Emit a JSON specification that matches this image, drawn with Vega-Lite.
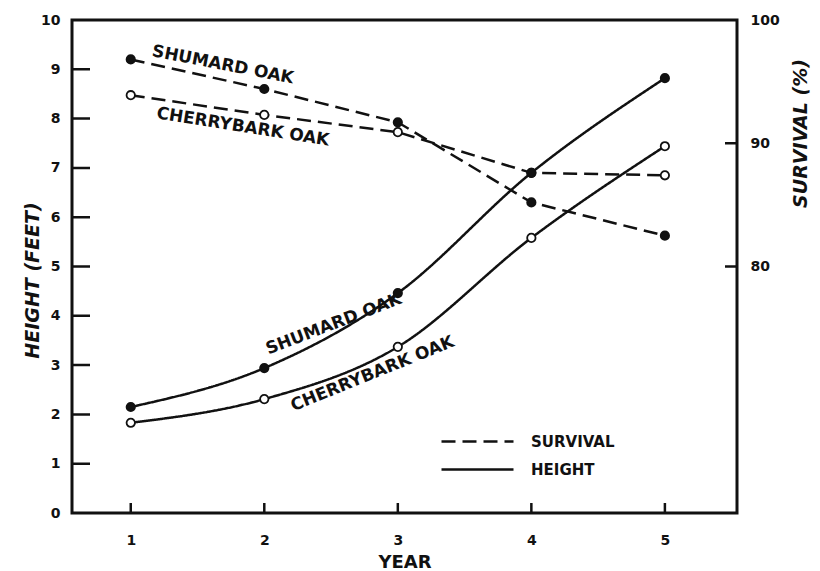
{
  "$schema": "https://vega.github.io/schema/vega-lite/v6.json",
  "width": 665,
  "height": 493,
  "autosize": {"type": "none"},
  "padding": {"left": 72, "top": 20, "right": 83, "bottom": 58},
  "background": "#ffffff",
  "config": {
    "view": {"stroke": "#111111", "strokeWidth": 3},
    "font": "DejaVu Sans",
    "axis": {
      "zindex": 1,
      "domain": false,
      "ticks": false,
      "tickSize": 0,
      "labelFont": "DejaVu Sans", "labelFontWeight": "bold", "labelFontSize": 14, "labelColor": "#111111",
      "titleFont": "DejaVu Sans", "titleFontWeight": "bold", "titleFontStyle": "italic", "titleFontSize": 19, "titleColor": "#111111",
      "grid": false
    }
  },
  "datasets": {
    "oaks": [
      {"species": "Shumard", "year": 1, "height": 2.15, "survival": 96.8},
      {"species": "Shumard", "year": 2, "height": 2.94, "survival": 94.4},
      {"species": "Shumard", "year": 3, "height": 4.46, "survival": 91.7},
      {"species": "Shumard", "year": 4, "height": 6.9, "survival": 85.2},
      {"species": "Shumard", "year": 5, "height": 8.82, "survival": 82.5},
      {"species": "Cherrybark", "year": 1, "height": 1.83, "survival": 93.9},
      {"species": "Cherrybark", "year": 2, "height": 2.31, "survival": 92.3},
      {"species": "Cherrybark", "year": 3, "height": 3.37, "survival": 90.9},
      {"species": "Cherrybark", "year": 4, "height": 5.58, "survival": 87.6},
      {"species": "Cherrybark", "year": 5, "height": 7.44, "survival": 87.4}
    ],
    "labels": [
      {"line": "survival-shumard", "year": 1.69, "height": 9.09, "label": "SHUMARD OAK"},
      {"line": "survival-cherrybark", "year": 1.84, "height": 7.83, "label": "CHERRYBARK OAK"},
      {"line": "height-shumard", "year": 2.52, "height": 3.83, "label": "SHUMARD OAK"},
      {"line": "height-cherrybark", "year": 2.81, "height": 2.82, "label": "CHERRYBARK OAK"}
    ],
    "heightTicks": [{"v": 1}, {"v": 2}, {"v": 3}, {"v": 4}, {"v": 5}, {"v": 6}, {"v": 7}, {"v": 8}, {"v": 9}],
    "yearTicks": [{"v": 1}, {"v": 2}, {"v": 3}, {"v": 4}, {"v": 5}],
    "survivalTicks": [{"v": 80}, {"v": 90}]
  },
  "layer": [
    {
      "layer": [
        {
          "data": {"name": "oaks"},
          "mark": {"type": "line", "color": "#111111", "strokeWidth": 2.5},
          "encoding": {
            "x": {"field": "year", "type": "quantitative", "scale": {"domain": [0.56, 5.54], "nice": false, "zero": false},
              "axis": {"values": [1, 2, 3, 4, 5], "format": "d", "labelPadding": 20, "title": "YEAR", "titleFontStyle": "normal", "titleFontSize": 18, "titleBaseline": "middle", "titleY": 49}},
            "y": {"field": "survival", "type": "quantitative", "scale": {"domain": [60, 100], "nice": false, "zero": false},
              "axis": {"orient": "right", "values": [80, 90, 100], "labelPadding": 13, "title": "SURVIVAL (%)", "titleAngle": 270, "titleX": 63, "titleY": 113, "titleAlign": "center", "titleBaseline": "middle"}},
            "detail": {"field": "species"},
            "strokeDash": {"datum": "SURVIVAL", "scale": {"domain": ["SURVIVAL", "HEIGHT"], "range": [[14, 7], [1, 0]]},
              "legend": {"orient": "none", "legendX": 395, "legendY": 411, "title": null, "padding": 0, "symbolType": "M-4,0H4", "symbolSize": 324, "symbolStrokeWidth": 2.5, "symbolStrokeColor": "#111111", "labelOffset": 43, "rowPadding": 9, "labelFont": "DejaVu Sans", "labelFontWeight": "bold", "labelFontSize": 15, "labelColor": "#111111"}}
          }
        },
        {
          "data": {"name": "oaks"},
          "mark": {"type": "point", "filled": true, "size": 70, "stroke": "#111111", "strokeWidth": 1.8, "opacity": 1},
          "encoding": {
            "x": {"field": "year", "type": "quantitative"},
            "y": {"field": "survival", "type": "quantitative"},
            "fill": {"field": "species", "type": "nominal", "scale": {"domain": ["Shumard", "Cherrybark"], "range": ["#111111", "#ffffff"]}, "legend": null}
          }
        },
        {
          "data": {"name": "survivalTicks"},
          "mark": {"type": "tick", "orient": "horizontal", "size": 24, "thickness": 2.5, "color": "#111111", "opacity": 1, "clip": true},
          "encoding": {
            "x": {"datum": 5.54, "type": "quantitative"},
            "y": {"field": "v", "type": "quantitative"}
          }
        }
      ]
    },
    {
      "layer": [
        {
          "data": {"name": "oaks"},
          "mark": {"type": "line", "color": "#111111", "strokeWidth": 2.5, "interpolate": "monotone"},
          "encoding": {
            "x": {"field": "year", "type": "quantitative"},
            "y": {"field": "height", "type": "quantitative", "scale": {"domain": [0, 10], "nice": false, "zero": true},
              "axis": {"orient": "left", "values": [0, 1, 2, 3, 4, 5, 6, 7, 8, 9, 10], "labelPadding": 12, "title": "HEIGHT (FEET)", "titleAngle": 270, "titleX": -40, "titleY": 260, "titleAlign": "center", "titleBaseline": "middle"}},
            "detail": {"field": "species"},
            "strokeDash": {"datum": "HEIGHT"}
          }
        },
        {
          "data": {"name": "oaks"},
          "mark": {"type": "point", "filled": true, "size": 70, "stroke": "#111111", "strokeWidth": 1.8, "opacity": 1},
          "encoding": {
            "x": {"field": "year", "type": "quantitative"},
            "y": {"field": "height", "type": "quantitative"},
            "fill": {"field": "species", "type": "nominal", "legend": null}
          }
        },
        {
          "data": {"name": "heightTicks"},
          "mark": {"type": "tick", "orient": "horizontal", "size": 36, "thickness": 2.5, "color": "#111111", "opacity": 1, "clip": true},
          "encoding": {
            "x": {"datum": 0.56, "type": "quantitative"},
            "y": {"field": "v", "type": "quantitative"}
          }
        },
        {
          "data": {"name": "yearTicks"},
          "mark": {"type": "tick", "orient": "vertical", "size": 20, "thickness": 2.5, "color": "#111111", "opacity": 1, "clip": true},
          "encoding": {
            "x": {"field": "v", "type": "quantitative"},
            "y": {"datum": 0, "type": "quantitative"}
          }
        },
        {
          "data": {"name": "labels"},
          "transform": [{"filter": "datum.line == 'survival-shumard'"}],
          "mark": {"type": "text", "angle": 11, "font": "DejaVu Sans", "fontWeight": "bold", "fontSize": 17, "color": "#111111", "align": "center", "baseline": "middle"},
          "encoding": {"x": {"field": "year", "type": "quantitative"}, "y": {"field": "height", "type": "quantitative"}, "text": {"field": "label"}}
        },
        {
          "data": {"name": "labels"},
          "transform": [{"filter": "datum.line == 'survival-cherrybark'"}],
          "mark": {"type": "text", "angle": 9, "font": "DejaVu Sans", "fontWeight": "bold", "fontSize": 17, "color": "#111111", "align": "center", "baseline": "middle"},
          "encoding": {"x": {"field": "year", "type": "quantitative"}, "y": {"field": "height", "type": "quantitative"}, "text": {"field": "label"}}
        },
        {
          "data": {"name": "labels"},
          "transform": [{"filter": "datum.line == 'height-shumard'"}],
          "mark": {"type": "text", "angle": 339, "font": "DejaVu Sans", "fontWeight": "bold", "fontSize": 17, "color": "#111111", "align": "center", "baseline": "middle"},
          "encoding": {"x": {"field": "year", "type": "quantitative"}, "y": {"field": "height", "type": "quantitative"}, "text": {"field": "label"}}
        },
        {
          "data": {"name": "labels"},
          "transform": [{"filter": "datum.line == 'height-cherrybark'"}],
          "mark": {"type": "text", "angle": 338, "font": "DejaVu Sans", "fontWeight": "bold", "fontSize": 17, "color": "#111111", "align": "center", "baseline": "middle"},
          "encoding": {"x": {"field": "year", "type": "quantitative"}, "y": {"field": "height", "type": "quantitative"}, "text": {"field": "label"}}
        }
      ]
    }
  ],
  "resolve": {"scale": {"y": "independent"}}
}
